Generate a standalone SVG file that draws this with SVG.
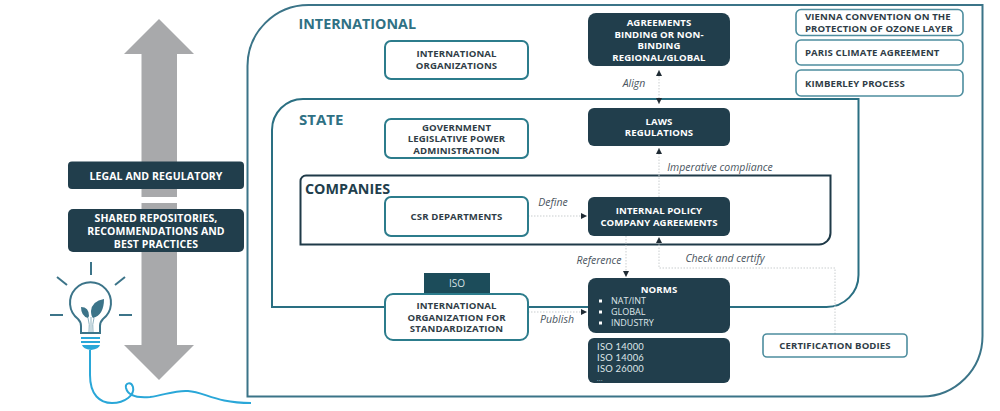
<svg xmlns="http://www.w3.org/2000/svg" width="1000" height="411" viewBox="0 0 1000 411">
<style>
text{font-family:"Open Sans","Noto Sans","Liberation Sans",sans-serif;text-anchor:middle}
.b{font-size:9.6px;font-weight:700;letter-spacing:.1px}
.big{font-size:10.5px}
.w{fill:#fff}
.d{fill:#2f3d47}
.dark{fill:#213e4c;stroke:none}
.light{fill:#fff;stroke:#2c7c8c;stroke-width:2}
.thin{fill:#fff;stroke:#4d8d9e;stroke-width:1.6}
.con{fill:none;stroke:#c9cdcf;stroke-width:1;stroke-dasharray:1.5 1.5}
.lab{font-size:10.5px;font-style:italic;fill:#4a5560}
.ray{fill:none;stroke:#3c7489;stroke-width:2}
.cab{fill:none;stroke:#2aa7d8;stroke-width:2}
.h{font-size:14.300px;font-weight:700;text-anchor:start}
.s{font-size:9px;text-anchor:start;fill:#dfe6e9}
.l{font-family:Lato,"Open Sans",sans-serif;font-size:9.400px;letter-spacing:.25px;text-anchor:start;fill:#dfe6e9}
</style>
<defs>
<marker id="a" markerWidth="7" markerHeight="7" refX="6" refY="3" orient="auto-start-reverse" markerUnits="userSpaceOnUse"><path d="M0 0L6 3L0 6Z" fill="#1f2b33"/></marker>
</defs>
<g id="axis">
<path fill="#a8a9ab" d="M159 19L194 54H177V197H141.500V54H124Z"/>
<path fill="#a8a9ab" d="M141.500 203H177V345H194L159 380L124 345H141.500Z"/>
</g>
<g id="containers">
<path d="M247.500 396.500V66A61 61 0 0 1 308.500 5H982.500V336A60.500 60.500 0 0 1 922 396.500Z" fill="none" stroke="#3b7488" stroke-width="2"/>
<path d="M272 307V130A31 31 0 0 1 303 99H858.500V275A32 32 0 0 1 826.500 307Z" fill="none" stroke="#2a6f82" stroke-width="2"/>
<path d="M300.500 244.500V181A5.500 5.500 0 0 1 306 175.500H830.500V233A11.500 11.500 0 0 1 819 244.500Z" fill="none" stroke="#1f3a48" stroke-width="2"/>
<text class="h" x="298.500" y="29" fill="#2f7184">INTERNATIONAL</text>
<text class="h" x="299" y="125" fill="#2f7184" style="font-size:15px">STATE</text>
<text class="h" x="305" y="193.500" fill="#213e4c">COMPANIES</text>
</g>
<g id="connectors">
<path class="con" d="M659 70V104" marker-start="url(#a)" marker-end="url(#a)"/>
<path class="con" d="M659 197V148" marker-end="url(#a)"/>
<path class="con" d="M528 216H587" marker-end="url(#a)"/>
<path class="con" d="M626 236V277" marker-end="url(#a)"/>
<path class="con" d="M835 334V268H659V237" marker-end="url(#a)"/>
<path class="con" d="M528 312H587" marker-end="url(#a)"/>
<text class="lab" x="634" y="87">Align</text>
<text class="lab" x="720" y="171">Imperative compliance</text>
<text class="lab" x="553" y="206">Define</text>
<text class="lab" x="599" y="264">Reference</text>
<text class="lab" x="725" y="262">Check and certify</text>
<text class="lab" x="557" y="323">Publish</text>
</g>
<g id="legal"><rect class="dark" x="68" y="161.500" width="176" height="27.500" rx="4"/><text class="b big w" x="156" y="179.500">LEGAL AND REGULATORY</text></g>
<g id="shared"><rect class="dark" x="68" y="209" width="176" height="43" rx="5"/><text class="b big w" x="156" y="222">SHARED REPOSITORIES,</text><text class="b big w" x="156" y="235">RECOMMENDATIONS AND</text><text class="b big w" x="156" y="248">BEST PRACTICES</text></g>
<g id="bulb">
<path class="ray" d="M91 262V275M57 277L67 285M125 277L115 285M50 315H63M119 315H132"/>
<path class="ray" d="M81 333V326Q81 322 78 319A20.500 20.500 0 1 1 103 319Q100 322 100 326V333Z"/>
<path fill="#3c7489" d="M104 299Q92 301 91 311Q91 316 93 318Q104 315 104 299ZM81 307Q89 307 89 316L88 318Q81 316 81 307Z"/>
<path d="M91 317V332M88 318Q90 324 89 332M94 318Q92 324 93 332" fill="none" stroke="#8fb2c0" stroke-width="1"/>
<path fill="none" stroke="#2aa7d8" stroke-width="2.200" d="M81 338H100M81 342H100"/>
<path fill="#2aa7d8" d="M82 345H100Q99 349 91 350Q83 349 82 345Z"/>
<path class="cab" d="M90 350V375C90 395 100 403 112 403C125 403 135 395 133 387C131 381 125 383 126 388C128 396 138 398 150 397C165 395 175 390 188 391C205 392 215 403 251 403"/>
</g>
<g id="intorg"><rect class="light" x="385" y="41" width="143" height="38" rx="6"/><text class="b d" x="456.500" y="57">INTERNATIONAL</text><text class="b d" x="456.500" y="69">ORGANIZATIONS</text></g>
<g id="agreements"><rect class="dark" x="588" y="13" width="142" height="53" rx="8"/><text class="b w" x="659" y="26">AGREEMENTS</text><text class="b w" x="659" y="38">BINDING OR NON-</text><text class="b w" x="659" y="49">BINDING</text><text class="b w" x="659" y="61">REGIONAL/GLOBAL</text></g>
<g id="vienna"><rect class="thin" x="796" y="9.500" width="167" height="26" rx="5"/><text class="b d" x="805" y="20" style="text-anchor:start">VIENNA CONVENTION ON THE</text><text class="b d" x="805" y="32" style="text-anchor:start">PROTECTION OF OZONE LAYER</text></g>
<g id="paris"><rect class="thin" x="796" y="40" width="167" height="25" rx="5"/><text class="b d" x="805" y="56" style="text-anchor:start">PARIS CLIMATE AGREEMENT</text></g>
<g id="kimberley"><rect class="thin" x="796" y="70" width="167" height="26" rx="5"/><text class="b d" x="805" y="87" style="text-anchor:start">KIMBERLEY PROCESS</text></g>
<g id="government"><rect class="light" x="385" y="119" width="143" height="39" rx="6"/><text class="b d" x="456.500" y="131">GOVERNMENT</text><text class="b d" x="456.500" y="142">LEGISLATIVE POWER</text><text class="b d" x="456.500" y="154">ADMINISTRATION</text></g>
<g id="laws"><rect class="dark" x="588" y="108" width="142" height="38" rx="6"/><text class="b w" x="659" y="125">LAWS</text><text class="b w" x="659" y="136">REGULATIONS</text></g>
<g id="csr"><rect class="light" x="385" y="197" width="143" height="39" rx="6"/><text class="b d" x="456.500" y="220">CSR DEPARTMENTS</text></g>
<g id="internal"><rect class="dark" x="588" y="197" width="142" height="39" rx="6"/><text class="b w" x="659" y="214">INTERNAL POLICY</text><text class="b w" x="659" y="226">COMPANY AGREEMENTS</text></g>
<g id="iso"><rect x="424" y="273" width="66" height="21" fill="#1c4c5a"/><text x="457" y="287" font-size="10" fill="#d5e0e3">ISO</text></g>
<g id="ios"><rect class="light" x="385" y="294" width="143" height="46" rx="8"/><text class="b d" x="456.500" y="309">INTERNATIONAL</text><text class="b d" x="456.500" y="321">ORGANIZATION FOR</text><text class="b d" x="456.500" y="332">STANDARDIZATION</text></g>
<g id="norms"><rect class="dark" x="588" y="278" width="142" height="55" rx="8"/><text class="b w" x="659" y="293">NORMS</text>
<rect x="599" y="299.500" width="3" height="3" fill="#fff"/><rect x="599" y="310.500" width="3" height="3" fill="#fff"/><rect x="599" y="321.500" width="3" height="3" fill="#fff"/>
<text class="s" x="611" y="304">NAT/INT</text><text class="s" x="611" y="315">GLOBAL</text><text class="s" x="611" y="326">INDUSTRY</text></g>
<g id="isolist"><rect class="dark" x="588" y="338" width="142" height="45" rx="6"/><text class="l" x="597" y="349.500">ISO 14000</text><text class="l" x="597" y="360.500">ISO 14006</text><text class="l" x="597" y="371.500">ISO 26000</text><text class="l" x="597" y="381" style="font-size:6px;letter-spacing:.6px">...</text></g>
<g id="cert"><rect class="thin" x="763" y="334" width="144" height="23" rx="4"/><text class="b d" x="835" y="349">CERTIFICATION BODIES</text></g>
</svg>
